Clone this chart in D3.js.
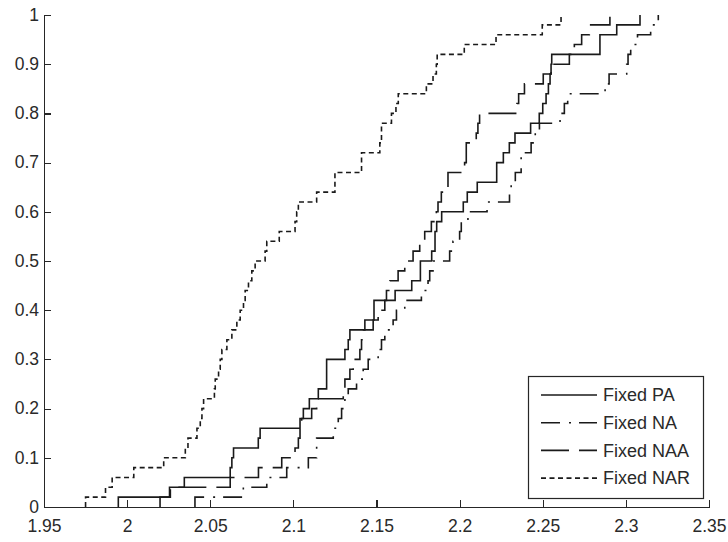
<!DOCTYPE html>
<html>
<head>
<meta charset="utf-8">
<script src="https://cdn.jsdelivr.net/npm/d3@7"></script>
<style>
  body { margin: 0; background: #fff; }
  svg { display: block; }
  text { font-family: "Liberation Sans", Arial, sans-serif; }
</style>
</head>
<body>
<div id="chart"></div>
<script>
  let width = 728, height = 542
  let margin = {left: 44, right: 19, top: 15, bottom: 35}

  // sorted sample values, 50 per series (each is one 0.02 step)
  let samplesPA = [1.9947, 2.0255, 2.0344, 2.062, 2.063, 2.064, 2.0789, 2.080, 2.104, 2.106,
    2.1096, 2.115, 2.120, 2.120, 2.120, 2.131, 2.133, 2.134, 2.143, 2.1485,
    2.1485, 2.1612, 2.1712, 2.1764, 2.1764, 2.1832, 2.1852, 2.1852, 2.1862, 2.1892,
    2.2022, 2.2046, 2.2106, 2.2223, 2.2223, 2.2263, 2.2299, 2.2333, 2.2427, 2.2479,
    2.250, 2.252, 2.2534, 2.2544, 2.255, 2.2554, 2.2844, 2.2844, 2.2945, 2.3085]

  let samplesNA = [2.0408, 2.0699, 2.084, 2.096, 2.109, 2.114, 2.114, 2.124, 2.127, 2.129,
    2.131, 2.133, 2.138, 2.142, 2.145, 2.151, 2.153, 2.155, 2.160, 2.162,
    2.167, 2.177, 2.181, 2.182, 2.184, 2.194, 2.196, 2.200, 2.201, 2.205,
    2.2165, 2.230, 2.231, 2.2335, 2.237, 2.237, 2.243, 2.2455, 2.248, 2.2604,
    2.263, 2.265, 2.2875, 2.2899, 2.3005, 2.3013, 2.3029, 2.307, 2.3149, 2.3195]

  let samplesNAA = [2.0198, 2.026, 2.062, 2.079, 2.093, 2.101, 2.103, 2.104, 2.105, 2.111,
    2.114, 2.130, 2.131, 2.134, 2.136, 2.140, 2.141, 2.142, 2.148, 2.151,
    2.155, 2.156, 2.158, 2.163, 2.167, 2.172, 2.176, 2.179, 2.183, 2.186,
    2.187, 2.189, 2.193, 2.193, 2.203, 2.204, 2.204, 2.210, 2.211, 2.212,
    2.2345, 2.2355, 2.239, 2.2503, 2.255, 2.266, 2.269, 2.2734, 2.278, 2.2904]

  let samplesNAR = [1.975, 1.987, 1.991, 2.004, 2.022, 2.035, 2.0366, 2.042, 2.044, 2.045,
    2.046, 2.0525, 2.053, 2.055, 2.056, 2.057, 2.060, 2.063, 2.066, 2.068,
    2.070, 2.071, 2.073, 2.075, 2.077, 2.083, 2.084, 2.0915, 2.101, 2.102,
    2.103, 2.114, 2.125, 2.125, 2.141, 2.141, 2.152, 2.153, 2.153, 2.159,
    2.1617, 2.1631, 2.180, 2.184, 2.186, 2.1865, 2.2028, 2.2219, 2.2497, 2.261]

  let seriesNames = ["Fixed PA", "Fixed NA", "Fixed NAA", "Fixed NAR"]
  let seriesDash = ["none", "19,9,2,8", "28,10", "5,3.5"]

  let xTicks = [1.95, 2, 2.05, 2.1, 2.15, 2.2, 2.25, 2.3, 2.35]
  let xTickLabels = ["1.95", "2", "2.05", "2.1", "2.15", "2.2", "2.25", "2.3", "2.35"]
  let yTicks = [0, 0.1, 0.2, 0.3, 0.4, 0.5, 0.6, 0.7, 0.8, 0.9, 1]
  let yTickLabels = ["0", "0.1", "0.2", "0.3", "0.4", "0.5", "0.6", "0.7", "0.8", "0.9", "1"]

  let x = d3.scaleLinear().domain([1.95, 2.35]).range([margin.left, width - margin.right])
  let y = d3.scaleLinear().domain([0, 1]).range([height - margin.bottom, margin.top])

  let svg = d3.select("#chart").append("svg")
    .attr("width", width)
    .attr("height", height)

  // empirical cdf: go up 1/n at every sample
  function cdfPoints(samples){
    let n = samples.length
    let pts = [[samples[0], 0]]
    samples.forEach(function(s, i){
      pts.push([s, (i + 1) / n])
    })
    return pts
  }

  let line = d3.line()
    .x(function(d){ return x(d[0]) })
    .y(function(d){ return y(d[1]) })
    .curve(d3.curveStepAfter)

  let allSamples = [samplesPA, samplesNA, samplesNAA, samplesNAR]

  svg.append("g").attr("class", "lines")
    .selectAll("path")
    .data(allSamples)
    .enter().append("path")
      .attr("d", function(d){ return line(cdfPoints(d)) })
      .attr("fill", "none")
      .attr("stroke", "#1a1a1a")
      .attr("stroke-width", 1.6)
      .attr("stroke-dasharray", function(d, i){ return seriesDash[i] })

  // axes, ticks point inward
  let xAxis = svg.append("g")
    .attr("transform", "translate(0," + y(0) + ")")
    .call(d3.axisBottom(x).tickValues(xTicks)
      .tickFormat(function(d, i){ return xTickLabels[i] })
      .tickSizeInner(-7).tickSizeOuter(0).tickPadding(13))

  let yAxis = svg.append("g")
    .attr("transform", "translate(" + x(1.95) + ",0)")
    .call(d3.axisLeft(y).tickValues(yTicks)
      .tickFormat(function(d, i){ return yTickLabels[i] })
      .tickSizeInner(-7).tickSizeOuter(0).tickPadding(5))

  ;[xAxis, yAxis].forEach(function(ax){
    ax.attr("color", "#262626")
      .attr("font-family", "Liberation Sans, Arial, sans-serif")
      .attr("font-size", 17.5)
    ax.selectAll("path, line").attr("stroke-width", 1.2).attr("shape-rendering", "crispEdges")
    ax.selectAll("text").attr("fill", "#2a2a2a")
  })
  yAxis.selectAll("text").attr("dy", "0.3em")

  // legend
  let lg = svg.append("g").attr("class", "legend")
  lg.append("rect")
    .attr("x", 528.5).attr("y", 376.5)
    .attr("width", 175).attr("height", 122)
    .attr("fill", "#fff")
    .attr("stroke", "#262626")
    .attr("stroke-width", 1.2)

  let rows = lg.selectAll(".row")
    .data(seriesNames)
    .enter().append("g")
      .attr("class", "row")
      .attr("transform", function(d, i){ return "translate(0," + (395 + i * 27.7) + ")" })

  rows.append("line")
    .attr("x1", 541).attr("x2", 597)
    .attr("y1", 0).attr("y2", 0)
    .attr("stroke", "#1a1a1a")
    .attr("stroke-width", 1.6)
    .attr("stroke-dasharray", function(d, i){ return seriesDash[i] })

  rows.append("text")
    .attr("x", 603)
    .attr("y", 0)
    .attr("dy", "0.35em")
    .attr("font-size", 18)
    .attr("fill", "#2a2a2a")
    .text(function(d){ return d })
</script>
</body>
</html>
